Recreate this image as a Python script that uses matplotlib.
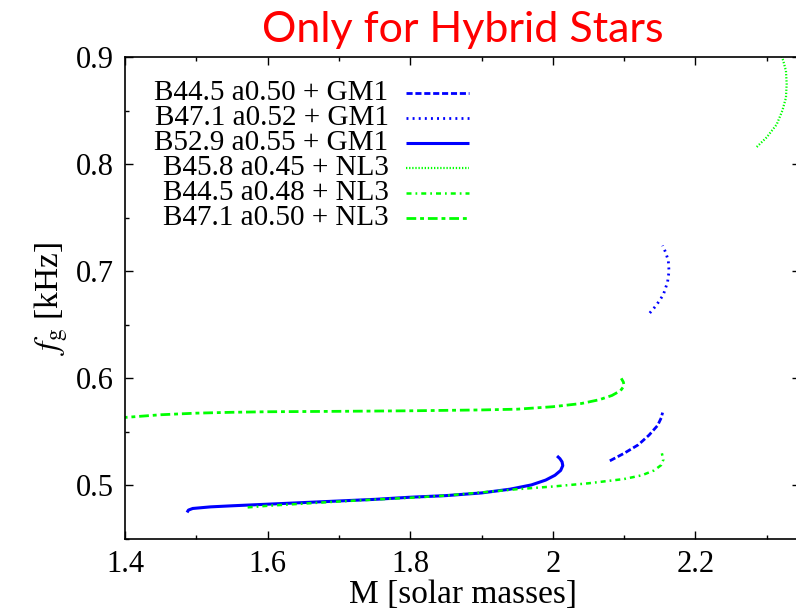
import numpy as np
from matplotlib import pyplot as plt
from matplotlib.ticker import MultipleLocator

plt.rcParams['mathtext.fontset'] = 'stix'
plt.rcParams['font.family'] = ['Liberation Serif', 'DejaVu Serif']

# g-mode frequency vs mass
m_gm1_a = [2.080, 2.100, 2.120, 2.135, 2.147, 2.152, 2.154]
f_gm1_a = [0.523, 0.530, 0.538, 0.547, 0.556, 0.563, 0.568]

m_gm1_b = [2.136, 2.145, 2.155, 2.161, 2.163, 2.162, 2.158, 2.154]
f_gm1_b = [0.661, 0.668, 0.678, 0.690, 0.700, 0.710, 0.718, 0.724]

m_gm1_c = [1.487, 1.489, 1.495, 1.520, 1.550, 1.600, 1.650, 1.700, 1.750,
           1.800, 1.850, 1.900, 1.940, 1.970, 1.990, 2.003, 2.011, 2.014,
           2.013, 2.010, 2.006]
f_gm1_c = [0.4748, 0.4770, 0.4785, 0.4800, 0.4810, 0.4825, 0.4840, 0.4855,
           0.4870, 0.4890, 0.4905, 0.4930, 0.4965, 0.5005, 0.5050, 0.5095,
           0.5140, 0.5185, 0.5220, 0.5250, 0.5275]

m_nl3_a = [2.286, 2.300, 2.314, 2.322, 2.327, 2.328, 2.327, 2.323, 2.320]
f_nl3_a = [0.816, 0.825, 0.837, 0.850, 0.862, 0.875, 0.887, 0.897, 0.902]

m_nl3_b = [1.572, 1.600, 1.650, 1.700, 1.750, 1.800, 1.850, 1.900, 1.950,
           2.000, 2.050, 2.100, 2.125, 2.142, 2.152, 2.155, 2.153]
f_nl3_b = [0.4795, 0.4810, 0.4830, 0.4850, 0.4868, 0.4885, 0.4905, 0.4935,
           0.4965, 0.4990, 0.5020, 0.5060, 0.5095, 0.5140, 0.5190, 0.5240, 0.5300]

m_nl3_c = [1.390, 1.400, 1.450, 1.500, 1.550, 1.600, 1.700, 1.800, 1.900,
           1.950, 2.000, 2.040, 2.065, 2.083, 2.095, 2.100, 2.099, 2.096]
f_nl3_c = [0.5628, 0.5635, 0.5660, 0.5675, 0.5683, 0.5688, 0.5692, 0.5697,
           0.5705, 0.5712, 0.5735, 0.5765, 0.5800, 0.5840, 0.5885, 0.5930,
           0.5965, 0.6000]

labels = ['B44.5 a0.50 + GM1', 'B47.1 a0.52 + GM1', 'B52.9 a0.55 + GM1',
          'B45.8 a0.45 + NL3', 'B44.5 a0.48 + NL3', 'B47.1 a0.50 + NL3']

blue = '#0000ff'
green = '#00ff00'
styles = [
    dict(color=blue, lw=2.0, dashes=(2.2, 1.0)),
    dict(color=blue, lw=2.0, dashes=(0.7, 1.5)),
    dict(color=blue, lw=2.2),
    dict(color=green, lw=1.6, dashes=(0.6, 0.8)),
    dict(color=green, lw=1.8, dashes=(2.0, 1.6, 0.7, 1.6)),
    dict(color=green, lw=2.0, dashes=(3.5, 1.4, 1.4, 1.4)),
]

series = [(m_gm1_a, f_gm1_a), (m_gm1_b, f_gm1_b), (m_gm1_c, f_gm1_c),
          (m_nl3_a, f_nl3_a), (m_nl3_b, f_nl3_b), (m_nl3_c, f_nl3_c)]

fig = plt.figure(figsize=(7.96, 6.14), dpi=100)
ax = fig.add_axes([125/796, 75/614, 675/796, 482/614])

for (m, f), st in zip(series, styles):
    ax.plot(m, f, solid_capstyle='butt', dash_capstyle='butt', **st)

ax.set_xlim(1.4, 1.4 + 675/713)
ax.set_ylim(0.45, 0.9)
ax.xaxis.set_major_locator(MultipleLocator(0.2))
ax.xaxis.set_minor_locator(MultipleLocator(0.1))
ax.yaxis.set_major_locator(MultipleLocator(0.1))
ax.yaxis.set_minor_locator(MultipleLocator(0.05))
ax.xaxis.set_major_formatter(plt.FuncFormatter(lambda v, p: f'{v:g}'))
ax.tick_params(which='both', direction='in', top=True, right=True,
               labelsize=22, width=1.0)
ax.tick_params(which='major', length=5.5, pad=8)
ax.tick_params(which='minor', length=3)
ax.spines['right'].set_visible(False)
for s in ['left', 'bottom', 'top']:
    ax.spines[s].set_linewidth(1.2)

ax.set_xlabel('M [solar masses]', fontsize=24, labelpad=0)
ax.set_ylabel(r'$f_{\rm g}$ [kHz]', fontsize=24, labelpad=4)

# key, gnuplot style: right-aligned text, line sample on the right
for i, (lab, st) in enumerate(zip(labels, styles)):
    yk = 0.925 - i*0.0519
    ax.text(0.3905, yk, lab, transform=ax.transAxes, ha='right', va='center',
            fontsize=21)
    ax.plot([0.417, 0.510], [yk, yk], transform=ax.transAxes,
            solid_capstyle='butt', dash_capstyle='butt', **st)

fig.text(463/796, 1 - 42/614, 'Only for Hybrid Stars', color='#ff0000',
         fontsize=31, family=['Lato', 'DejaVu Sans'], ha='center', va='baseline')

fig.savefig('out.png', dpi=100)
